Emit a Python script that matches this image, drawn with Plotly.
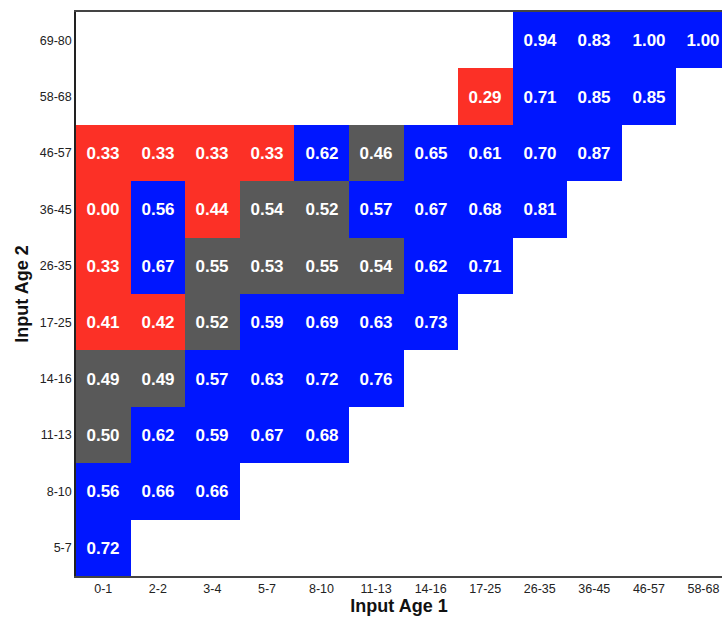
import plotly.graph_objects as go

x_labels = ["0-1", "2-2", "3-4", "5-7", "8-10", "11-13", "14-16", "17-25",
            "26-35", "36-45", "46-57", "58-68"]
y_labels = ["5-7", "8-10", "11-13", "14-16", "17-25", "26-35", "36-45",
            "46-57", "58-68", "69-80"]

row_5_7 = [0.72]
row_8_10 = [0.56, 0.66, 0.66]
row_11_13 = [0.50, 0.62, 0.59, 0.67, 0.68]
row_14_16 = [0.49, 0.49, 0.57, 0.63, 0.72, 0.76]
row_17_25 = [0.41, 0.42, 0.52, 0.59, 0.69, 0.63, 0.73]
row_26_35 = [0.33, 0.67, 0.55, 0.53, 0.55, 0.54, 0.62, 0.71]
row_36_45 = [0.00, 0.56, 0.44, 0.54, 0.52, 0.57, 0.67, 0.68, 0.81]
row_46_57 = [0.33, 0.33, 0.33, 0.33, 0.62, 0.46, 0.65, 0.61, 0.70, 0.87]
row_58_68 = [None] * 7 + [0.29, 0.71, 0.85, 0.85]
row_69_80 = [None] * 8 + [0.94, 0.83, 1.00, 1.00]

rows = [row_5_7, row_8_10, row_11_13, row_14_16, row_17_25, row_26_35,
        row_36_45, row_46_57, row_58_68, row_69_80]

RED, GRAY, BLUE = "#FC3026", "#595959", "#0016FF"


def category(v):
    if v is None:
        return None
    if v < 0.45:
        return 0
    if v < 0.555:
        return 1
    return 2


z, text = [], []
for r in rows:
    full = list(r) + [None] * (len(x_labels) - len(r))
    z.append([category(v) for v in full])
    text.append(["" if v is None else f"{v:.2f}" for v in full])

colorscale = [[0, RED], [0.3333, RED], [0.3334, GRAY], [0.6666, GRAY],
              [0.6667, BLUE], [1, BLUE]]

fig = go.Figure(go.Heatmap(
    x=x_labels, y=y_labels, z=z, text=text, texttemplate="%{text}",
    textfont=dict(family="Liberation Sans, Arial, sans-serif", size=17,
                  color="white", weight="bold"),
    colorscale=colorscale, zmin=0, zmax=2, showscale=False, xgap=0, ygap=0,
    hoverinfo="skip",
))

fig.update_layout(
    width=722, height=618,
    margin=dict(l=76, r=0, t=12, b=42),
    paper_bgcolor="white", plot_bgcolor="white",
    font=dict(family="Liberation Sans, Arial, sans-serif", color="#222"),
    xaxis=dict(
        type="category", range=[-0.5, 11.34], showgrid=False, zeroline=False,
        showline=True, linecolor="#444", linewidth=1.5, mirror=True,
        ticks="", tickfont=dict(size=12.5, color="#222"),
        title=dict(text="<b>Input Age 1</b>", font=dict(size=18, color="#111"),
                   standoff=2),
    ),
    yaxis=dict(
        type="category", range=[-0.5, 9.5], showgrid=False, zeroline=False,
        showline=True, linecolor="#222", linewidth=1.5,
        ticks="", tickfont=dict(size=12.5, color="#222"),
        title=dict(text="<b>Input Age 2</b>", font=dict(size=18, color="#111"),
                   standoff=6),
    ),
)

fig.write_html(
    "out.html",
    config={"displayModeBar": False},
    post_script="document.body.style.margin='0';"
                "document.body.style.overflow='hidden';",
)
